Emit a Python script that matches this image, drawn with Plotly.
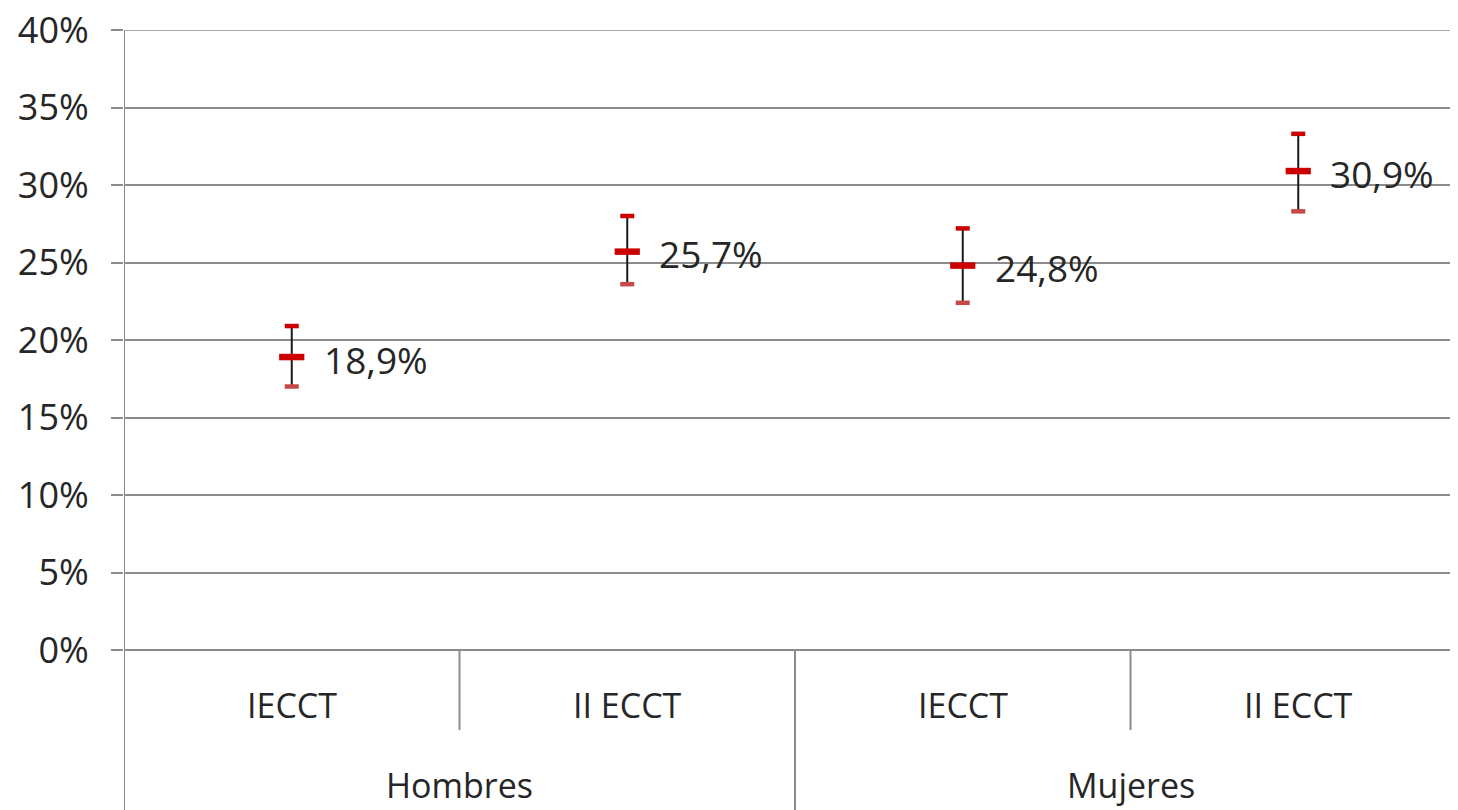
import plotly.graph_objects as go

groups = ["Hombres", "Hombres", "Mujeres", "Mujeres"]
subcats = ["IECCT", "II ECCT", "IECCT", "II ECCT"]
values = [18.9, 25.7, 24.8, 30.9]
err_plus = [2.0, 2.3, 2.4, 2.4]
err_minus = [1.9, 2.1, 2.4, 2.6]
labels = ["18,9%", "25,7%", "24,8%", "30,9%"]
group_names = ["Hombres", "Mujeres"]
ytick_vals = [0, 5, 10, 15, 20, 25, 30, 35, 40]
ytick_text = ["0%", "5%", "10%", "15%", "20%", "25%", "30%", "35%", "40%"]

xs = list(range(len(values)))
FONT = "Open Sans"
TXT = "#262626"
GRID = "#8c8c8c"
RED = "#cc0000"
RED2 = "#c84848"

fig = go.Figure()
# error bar vertical lines
fig.add_trace(go.Scatter(
    x=xs, y=values, mode="markers",
    marker=dict(size=0.1, color="rgba(0,0,0,0)"),
    error_y=dict(type="data", symmetric=False, array=err_plus, arrayminus=err_minus,
                 color="#1a1a1a", thickness=2, width=0),
    showlegend=False, hoverinfo="skip"))
# caps
fig.add_trace(go.Scatter(
    x=xs, y=[v + e for v, e in zip(values, err_plus)], mode="markers",
    marker=dict(symbol="line-ew", size=10, line=dict(width=4.5, color=RED)),
    showlegend=False, hoverinfo="skip"))
fig.add_trace(go.Scatter(
    x=xs, y=[v - e for v, e in zip(values, err_minus)], mode="markers",
    marker=dict(symbol="line-ew", size=10, line=dict(width=4.5, color=RED2)),
    showlegend=False, hoverinfo="skip"))
# main markers
fig.add_trace(go.Scatter(
    x=xs, y=values, mode="markers",
    marker=dict(symbol="line-ew", size=18, line=dict(width=6.5, color=RED)),
    showlegend=False))

for x, v, t in zip(xs, values, labels):
    fig.add_annotation(x=x, y=v, text=t, showarrow=False, xanchor="left",
                       yanchor="middle", xshift=30, yshift=-2,
                       font=dict(family=FONT, size=37, color=TXT))

PH = 620.0
for x, t in zip(xs, subcats):
    fig.add_annotation(x=x, y=-55 / PH, yref="paper", text=t, showarrow=False,
                       xanchor="center", yanchor="middle",
                       font=dict(family=FONT, size=34, color=TXT))
for i, g in enumerate(group_names):
    fig.add_annotation(x=2 * i + 0.5, y=-135 / PH, yref="paper", text=g, showarrow=False,
                       xanchor="center", yanchor="middle",
                       font=dict(family=FONT, size=34, color=TXT))

shapes = []
shapes.append(dict(type="line", xref="x", yref="paper", x0=-0.5, x1=-0.5, y0=1, y1=-170 / PH,
                   line=dict(color=GRID, width=2)))
for xb, yb in [(0.5, -80 / PH), (1.5, -170 / PH), (2.5, -80 / PH)]:
    shapes.append(dict(type="line", xref="x", yref="paper", x0=xb, x1=xb, y0=0, y1=yb,
                       line=dict(color=GRID, width=2)))
# top gridline (edge of the range)
shapes.append(dict(type="line", xref="paper", yref="y", x0=0, x1=1,
                   y0=ytick_vals[-1], y1=ytick_vals[-1], line=dict(color=GRID, width=1.5)))
fig.update_layout(shapes=shapes)

fig.update_layout(
    width=1458, height=810,
    margin=dict(l=116, r=0, t=22, b=168),
    paper_bgcolor="white", plot_bgcolor="white",
    xaxis=dict(range=[-0.5, 3.5], showticklabels=False, showgrid=False,
               zeroline=False, showline=False, ticks=""),
    yaxis=dict(range=[0, 40], tickvals=ytick_vals, ticktext=ytick_text,
               showgrid=True, gridcolor=GRID, gridwidth=1.5,
               zeroline=True, zerolinecolor=GRID, zerolinewidth=2,
               ticks="outside", ticklen=12, tickcolor=GRID, tickwidth=1.5,
               ticklabelstandoff=15, ticklabeloverflow="allow", automargin=False,
               tickfont=dict(family=FONT, size=36, color=TXT)),
)

fig.write_html("out.html")
